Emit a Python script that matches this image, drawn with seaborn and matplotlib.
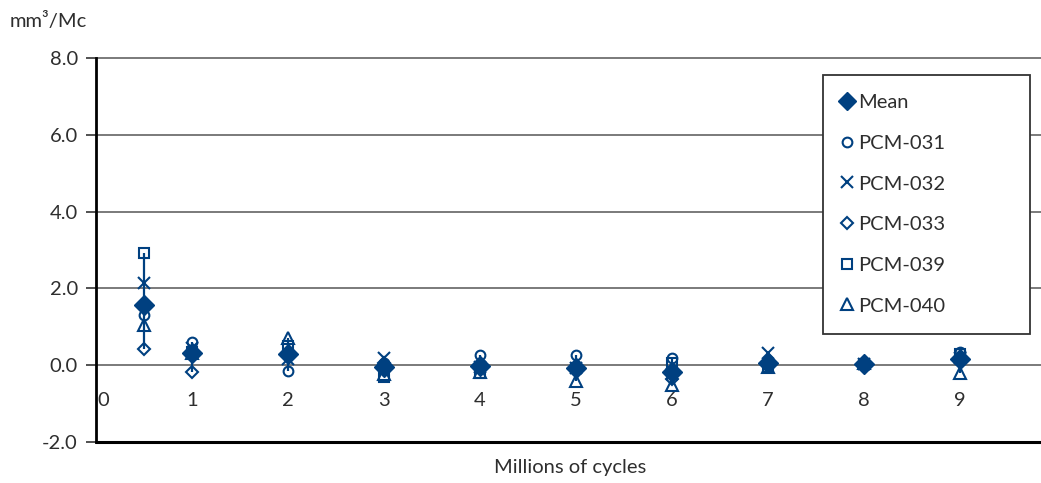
import matplotlib
matplotlib.use("Agg")
import matplotlib.pyplot as plt
import matplotlib.transforms as mtransforms
import seaborn as sns
import pandas as pd
import numpy as np

# ---- data ----
cycles = [0.5, 1, 2, 3, 4, 5, 6, 7, 8, 9]
mean_vals = [1.56, 0.31, 0.30, -0.04, -0.01, -0.08, -0.17, 0.06, 0.03, 0.15]
pcm_031 = [1.30, 0.61, -0.15, 0.05, 0.27, 0.26, 0.20, 0.05, 0.05, 0.35]
pcm_032 = [2.13, 0.45, 0.15, 0.20, -0.05, -0.08, -0.23, 0.31, 0.02, 0.20]
pcm_033 = [0.43, -0.17, 0.28, 0.07, 0.00, -0.08, -0.35, 0.05, 0.00, 0.10]
pcm_039 = [2.91, 0.35, 0.50, -0.30, -0.20, -0.08, 0.05, -0.05, 0.03, 0.30]
pcm_040 = [1.04, 0.31, 0.72, -0.22, -0.18, -0.42, -0.52, -0.05, 0.05, -0.20]

series_names = ["Mean", "PCM-031", "PCM-032", "PCM-033", "PCM-039", "PCM-040"]
series_vals = [mean_vals, pcm_031, pcm_032, pcm_033, pcm_039, pcm_040]

y_ticks = [-2, 0, 2, 4, 6, 8]
x_ticks = list(range(0, 11))
x_label = "Millions of cycles"
y_label = "mm³/Mc"

BLUE = "#004080"
TXT = "#2e2e2e"
FS = 14.5

sns.set_theme(style="white")
plt.rcParams["font.family"] = ["Lato", "DejaVu Sans"]

W, H = 1041, 483
fig = plt.figure(figsize=(W / 100, H / 100), dpi=100)
ax = fig.add_axes([96 / W, 41 / H, 960 / W, 384 / H])

# high-low lines across all PCM series
pcm_arr = np.array(series_vals[1:])
ax.vlines(cycles, pcm_arr.min(axis=0), pcm_arr.max(axis=0), color=BLUE, lw=1.6, zorder=3)

styles = {
    "Mean": dict(marker="D", markersize=10.5, markerfacecolor=BLUE, markeredgecolor=BLUE, markeredgewidth=1),
    "PCM-031": dict(marker="o", markersize=7, markerfacecolor="none", markeredgecolor=BLUE, markeredgewidth=1.5),
    "PCM-032": dict(marker="x", markersize=8, markerfacecolor="none", markeredgecolor=BLUE, markeredgewidth=1.5),
    "PCM-033": dict(marker="D", markersize=6, markerfacecolor="none", markeredgecolor=BLUE, markeredgewidth=1.5),
    "PCM-039": dict(marker="s", markersize=7, markerfacecolor="none", markeredgecolor=BLUE, markeredgewidth=1.5),
    "PCM-040": dict(marker="^", markersize=8, markerfacecolor="none", markeredgecolor=BLUE, markeredgewidth=1.5),
}

for name, vals in zip(series_names, series_vals):
    df = pd.DataFrame({"x": cycles, "y": vals})
    sns.lineplot(data=df, x="x", y="y", ax=ax, linestyle="", color=BLUE,
                 label=name, zorder=5 if name == "Mean" else 4, **styles[name])

ax.set_xlim(0, 10)
ax.set_ylim(-2, 8)
ax.set_yticks(y_ticks)
ax.set_yticklabels([f"{v:.1f}" for v in y_ticks])
ax.set_xticks(x_ticks)
ax.set_xticklabels([str(v) for v in x_ticks])
ax.set_xlabel("")
ax.set_ylabel("")

for s in ["top", "right"]:
    ax.spines[s].set_visible(False)
ax.spines["left"].set_color("black")
ax.spines["left"].set_linewidth(2)
ax.spines["bottom"].set_position(("data", 0))
ax.spines["bottom"].set_color("none")
ax.axhline(-2, color="black", lw=2.2, clip_on=False, zorder=6)

for yv in [0, 2, 4, 6, 8]:
    ax.axhline(yv, color="#7a7a7a", lw=1.4, zorder=1, clip_on=False)

ax.tick_params(axis="y", left=True, length=7, width=1.2, color="#333333", pad=6,
               labelsize=FS, labelcolor=TXT)
ax.tick_params(axis="x", bottom=False, length=0, pad=19, labelsize=FS, labelcolor=TXT)

# the "0" label sits slightly right of the axis in the reference
lbl0 = ax.get_xticklabels()[0]
lbl0.set_transform(lbl0.get_transform() + mtransforms.ScaledTranslation(7 / 100, 0, fig.dpi_scale_trans))

fig.text(10 / W, 1 - 21 / H, y_label, fontsize=FS, color=TXT, va="center", ha="left")
fig.text(570 / W, 1 - 467 / H, x_label, fontsize=FS, color=TXT, va="center", ha="center")

handles, labels = ax.get_legend_handles_labels()
leg = ax.legend(handles, labels, loc="upper left",
                bbox_to_anchor=(823 / W, 1 - 327 / H, (1030 - 823) / W, (327 - 75) / H),
                bbox_transform=fig.transFigure, mode="expand", borderaxespad=0,
                fontsize=FS, labelspacing=1.17, borderpad=0.95, handlelength=0.45,
                handletextpad=0.32, fancybox=False, framealpha=1, edgecolor="#333333",
                labelcolor=TXT)
leg.get_frame().set_linewidth(1.3)
leg.set_zorder(10)
leg.legend_handles[0].set_markersize(9)

fig.savefig("out.png", dpi=100)
